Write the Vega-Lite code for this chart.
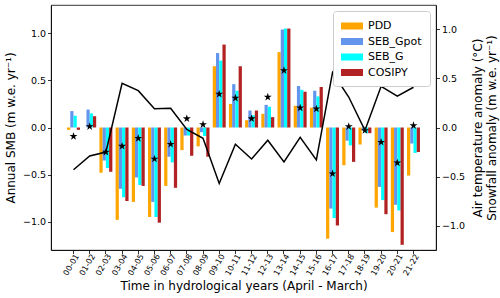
{
  "$schema": "https://vega.github.io/schema/vega-lite/v6.json",
  "width": 385,
  "height": 245,
  "autosize": {"type": "none"},
  "padding": {"left": 51, "top": 5, "right": 64, "bottom": 48},
  "background": "white",
  "config": {
    "font": "DejaVu Sans",
    "view": {"stroke": "black", "strokeWidth": 0.8},
    "axis": {
      "domainColor": "black", "tickColor": "black", "tickSize": 3.5, "tickWidth": 0.8, "domainWidth": 0.8,
      "labelColor": "black", "titleColor": "black", "labelFontSize": 9.5, "titleFontSize": 12,
      "titleFontWeight": "normal", "grid": false, "labelFont": "DejaVu Sans", "titleFont": "DejaVu Sans", "labelPadding": 2
    },
    "legend": {
      "orient": "top-right", "offset": 6, "fillColor": "white", "strokeColor": "#cccccc", "cornerRadius": 3,
      "padding": 8, "symbolType": "M-1,-0.5H2.14V0.5H-1Z", "symbolSize": 196, "symbolStrokeWidth": 0,
      "symbolOpacity": 1, "labelFontSize": 11, "labelFontWeight": "normal", "labelFont": "DejaVu Sans", "labelColor": "black", "labelOffset": 13, "rowPadding": 3.5
    }
  },
  "datasets": {
    "smb": [
      {"year": "00-01", "model": "PDD", "smb": -0.025}, {"year": "00-01", "model": "SEB_Gpot", "smb": 0.174}, {"year": "00-01", "model": "SEB_G", "smb": 0.124}, {"year": "00-01", "model": "COSIPY", "smb": -0.025},
      {"year": "01-02", "model": "PDD", "smb": 0.0}, {"year": "01-02", "model": "SEB_Gpot", "smb": 0.19}, {"year": "01-02", "model": "SEB_G", "smb": 0.15}, {"year": "01-02", "model": "COSIPY", "smb": 0.12},
      {"year": "02-03", "model": "PDD", "smb": -0.48}, {"year": "02-03", "model": "SEB_Gpot", "smb": -0.35}, {"year": "02-03", "model": "SEB_G", "smb": -0.43}, {"year": "02-03", "model": "COSIPY", "smb": -0.47},
      {"year": "03-04", "model": "PDD", "smb": -0.98}, {"year": "03-04", "model": "SEB_Gpot", "smb": -0.65}, {"year": "03-04", "model": "SEB_G", "smb": -0.74}, {"year": "03-04", "model": "COSIPY", "smb": -0.78},
      {"year": "04-05", "model": "PDD", "smb": -0.79}, {"year": "04-05", "model": "SEB_Gpot", "smb": -0.53}, {"year": "04-05", "model": "SEB_G", "smb": -0.61}, {"year": "04-05", "model": "COSIPY", "smb": -0.62},
      {"year": "05-06", "model": "PDD", "smb": -0.95}, {"year": "05-06", "model": "SEB_Gpot", "smb": -0.79}, {"year": "05-06", "model": "SEB_G", "smb": -0.95}, {"year": "05-06", "model": "COSIPY", "smb": -1.01},
      {"year": "06-07", "model": "PDD", "smb": -0.62}, {"year": "06-07", "model": "SEB_Gpot", "smb": -0.31}, {"year": "06-07", "model": "SEB_G", "smb": -0.37}, {"year": "06-07", "model": "COSIPY", "smb": -0.64},
      {"year": "07-08", "model": "PDD", "smb": -0.24}, {"year": "07-08", "model": "SEB_Gpot", "smb": -0.085}, {"year": "07-08", "model": "SEB_G", "smb": -0.085}, {"year": "07-08", "model": "COSIPY", "smb": -0.30},
      {"year": "08-09", "model": "PDD", "smb": -0.20}, {"year": "08-09", "model": "SEB_Gpot", "smb": -0.05}, {"year": "08-09", "model": "SEB_G", "smb": -0.09}, {"year": "08-09", "model": "COSIPY", "smb": -0.31},
      {"year": "09-10", "model": "PDD", "smb": 0.65}, {"year": "09-10", "model": "SEB_Gpot", "smb": 0.79}, {"year": "09-10", "model": "SEB_G", "smb": 0.71}, {"year": "09-10", "model": "COSIPY", "smb": 0.88},
      {"year": "10-11", "model": "PDD", "smb": 0.25}, {"year": "10-11", "model": "SEB_Gpot", "smb": 0.46}, {"year": "10-11", "model": "SEB_G", "smb": 0.39}, {"year": "10-11", "model": "COSIPY", "smb": 0.65},
      {"year": "11-12", "model": "PDD", "smb": 0.078}, {"year": "11-12", "model": "SEB_Gpot", "smb": 0.18}, {"year": "11-12", "model": "SEB_G", "smb": 0.13}, {"year": "11-12", "model": "COSIPY", "smb": 0.18},
      {"year": "12-13", "model": "PDD", "smb": 0.145}, {"year": "12-13", "model": "SEB_Gpot", "smb": 0.24}, {"year": "12-13", "model": "SEB_G", "smb": 0.22}, {"year": "12-13", "model": "COSIPY", "smb": 0.11},
      {"year": "13-14", "model": "PDD", "smb": 0.80}, {"year": "13-14", "model": "SEB_Gpot", "smb": 1.04}, {"year": "13-14", "model": "SEB_G", "smb": 1.05}, {"year": "13-14", "model": "COSIPY", "smb": 1.05},
      {"year": "14-15", "model": "PDD", "smb": 0.23}, {"year": "14-15", "model": "SEB_Gpot", "smb": 0.44}, {"year": "14-15", "model": "SEB_G", "smb": 0.40}, {"year": "14-15", "model": "COSIPY", "smb": 0.38},
      {"year": "15-16", "model": "PDD", "smb": 0.21}, {"year": "15-16", "model": "SEB_Gpot", "smb": 0.39}, {"year": "15-16", "model": "SEB_G", "smb": 0.33}, {"year": "15-16", "model": "COSIPY", "smb": 0.43},
      {"year": "16-17", "model": "PDD", "smb": -1.18}, {"year": "16-17", "model": "SEB_Gpot", "smb": -0.86}, {"year": "16-17", "model": "SEB_G", "smb": -0.96}, {"year": "16-17", "model": "COSIPY", "smb": -1.04},
      {"year": "17-18", "model": "PDD", "smb": -0.40}, {"year": "17-18", "model": "SEB_Gpot", "smb": -0.14}, {"year": "17-18", "model": "SEB_G", "smb": -0.19}, {"year": "17-18", "model": "COSIPY", "smb": -0.365},
      {"year": "18-19", "model": "PDD", "smb": -0.18}, {"year": "18-19", "model": "SEB_Gpot", "smb": -0.03}, {"year": "18-19", "model": "SEB_G", "smb": -0.06}, {"year": "18-19", "model": "COSIPY", "smb": -0.06},
      {"year": "19-20", "model": "PDD", "smb": -0.85}, {"year": "19-20", "model": "SEB_Gpot", "smb": -0.63}, {"year": "19-20", "model": "SEB_G", "smb": -0.77}, {"year": "19-20", "model": "COSIPY", "smb": -0.92},
      {"year": "20-21", "model": "PDD", "smb": -1.11}, {"year": "20-21", "model": "SEB_Gpot", "smb": -0.82}, {"year": "20-21", "model": "SEB_G", "smb": -0.88}, {"year": "20-21", "model": "COSIPY", "smb": -1.245},
      {"year": "21-22", "model": "PDD", "smb": -0.51}, {"year": "21-22", "model": "SEB_Gpot", "smb": -0.17}, {"year": "21-22", "model": "SEB_G", "smb": -0.27}, {"year": "21-22", "model": "COSIPY", "smb": -0.26}
    ],
    "clim": [
      {"year": "00-01", "temp": -0.43, "snow": -0.09},
      {"year": "01-02", "temp": -0.29, "snow": 0.01},
      {"year": "02-03", "temp": -0.25, "snow": -0.25},
      {"year": "03-04", "temp": 0.45, "snow": -0.19},
      {"year": "04-05", "temp": 0.375, "snow": -0.11},
      {"year": "05-06", "temp": 0.19, "snow": -0.32},
      {"year": "06-07", "temp": 0.195, "snow": -0.17},
      {"year": "07-08", "temp": -0.02, "snow": 0.09},
      {"year": "08-09", "temp": -0.11, "snow": 0.03},
      {"year": "09-10", "temp": -0.57, "snow": 0.34},
      {"year": "10-11", "temp": -0.17, "snow": 0.30},
      {"year": "11-12", "temp": -0.32, "snow": 0.09},
      {"year": "12-13", "temp": -0.13, "snow": 0.31},
      {"year": "13-14", "temp": -0.35, "snow": 0.58},
      {"year": "14-15", "temp": -0.10, "snow": 0.20},
      {"year": "15-16", "temp": -0.33, "snow": 0.19},
      {"year": "16-17", "temp": 0.56, "snow": -0.47},
      {"year": "17-18", "temp": 0.31, "snow": 0.01},
      {"year": "18-19", "temp": -0.03, "snow": -0.03},
      {"year": "19-20", "temp": 0.42, "snow": -0.15},
      {"year": "20-21", "temp": 0.32, "snow": -0.36},
      {"year": "21-22", "temp": 0.41, "snow": 0.02}
    ]
  },
  "layer": [
    {
      "data": {"name": "smb"},
      "mark": {"type": "bar"},
      "encoding": {
        "x": {
          "field": "year", "type": "nominal",
          "scale": {"paddingInner": 0.2, "paddingOuter": 0.99},
          "axis": {"title": "Time in hydrological years (April - March)", "labelAngle": -60, "labelAlign": "right", "labelBaseline": "middle", "labelFontSize": 8, "labelOffset": 4, "labelPadding": 1, "titlePadding": 4}
        },
        "xOffset": {"field": "model", "type": "nominal", "sort": ["PDD", "SEB_Gpot", "SEB_G", "COSIPY"], "scale": {"paddingInner": 0, "paddingOuter": 0}},
        "y": {
          "field": "smb", "type": "quantitative",
          "scale": {"domain": [-1.3, 1.3], "nice": false, "zero": false},
          "axis": {"orient": "left", "title": "Annual SMB (m w.e. yr⁻¹)", "values": [-1, -0.5, 0, 0.5, 1], "format": ".1f", "titlePadding": 5}
        },
        "color": {
          "field": "model", "type": "nominal",
          "scale": {"domain": ["PDD", "SEB_Gpot", "SEB_G", "COSIPY"], "range": ["#FFA500", "#6495ED", "#00FFFF", "#B22222"]},
          "legend": {"title": null}
        }
      }
    },
    {
      "data": {"name": "clim"},
      "layer": [
        {
          "mark": {"type": "line", "color": "black", "strokeWidth": 1.5},
          "encoding": {
            "x": {"field": "year", "type": "nominal"},
            "y": {
              "field": "temp", "type": "quantitative",
              "scale": {"domain": [-1.247, 1.247], "nice": false, "zero": false},
              "axis": {"orient": "right", "title": ["Air temperature anomaly (°C)", "Snowfall anomaly (m w.e. yr⁻¹)"], "titleAngle": -90, "values": [-1, -0.5, 0, 0.5, 1], "format": ".1f", "titlePadding": 6}
            }
          }
        },
        {
          "mark": {"type": "point", "shape": "M0,-1L0.225,-0.309L0.951,-0.309L0.363,0.118L0.588,0.809L0,0.382L-0.588,0.809L-0.363,0.118L-0.951,-0.309L-0.225,-0.309Z", "filled": true, "color": "black", "opacity": 1, "size": 70},
          "encoding": {
            "x": {"field": "year", "type": "nominal"},
            "y": {"field": "snow", "type": "quantitative"}
          }
        }
      ]
    }
  ],
  "resolve": {"scale": {"y": "independent"}}
}
